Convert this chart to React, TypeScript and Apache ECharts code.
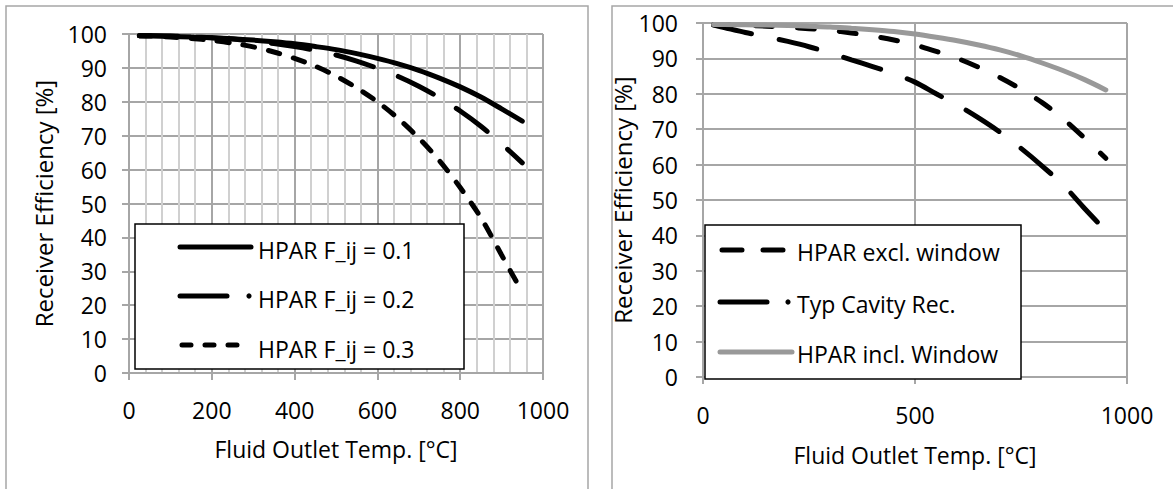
import React, { useEffect, useRef } from "react";
import * as echarts from "echarts";

// ---------- data ----------
const leftTemps = [25, 50, 100, 150, 200, 250, 300, 350, 400, 450, 500, 550, 600, 650, 700, 750, 800, 850, 900, 950];
const effFij01 = [99.5, 99.45, 99.3, 99.1, 98.9, 98.6, 98.2, 97.7, 97.1, 96.3, 95.4, 94.2, 92.8, 91.2, 89.3, 87.0, 84.4, 81.4, 77.9, 74.3];
const effFij02 = [99.5, 99.5, 99.4, 99.2, 98.9, 98.5, 97.9, 97.2, 96.3, 95.2, 93.8, 92.0, 89.9, 87.5, 84.6, 81.2, 77.3, 72.8, 67.6, 62.0];
const effFij03 = [99.5, 99.4, 99.1, 98.7, 98.1, 97.3, 96.2, 94.7, 92.8, 90.5, 87.6, 84.1, 80.0, 75.1, 69.3, 62.6, 54.7, 45.8, 34.8, 23.8];

const rightTemps = [25, 50, 100, 150, 200, 250, 300, 350, 400, 450, 500, 550, 600, 650, 700, 750, 800, 850, 900, 950];
const cavityTemps = [25, 50, 100, 150, 200, 250, 300, 350, 400, 450, 500, 550, 600, 650, 700, 750, 800, 850, 900, 930];
const effExclWindow = [99.5, 99.4, 99.3, 99.1, 98.8, 98.4, 97.9, 97.2, 96.3, 95.2, 93.8, 92.0, 90.0, 87.5, 84.6, 81.3, 77.5, 72.9, 67.5, 61.8];
const effTypCavity = [99.4, 98.7, 97.3, 96.1, 94.8, 93.3, 91.5, 89.6, 87.7, 85.7, 83.3, 80.0, 76.8, 73.2, 69.2, 64.6, 59.6, 54.2, 47.6, 43.8];
const effInclWindow = [99.6, 99.6, 99.5, 99.4, 99.3, 99.1, 98.9, 98.5, 98.1, 97.6, 96.9, 96.0, 95.0, 93.8, 92.4, 90.7, 88.7, 86.5, 84.0, 81.1];

const leftNames = ["HPAR F_ij = 0.1", "HPAR F_ij = 0.2", "HPAR F_ij = 0.3"];
const rightNames = ["HPAR excl. window", "Typ Cavity Rec.", "HPAR incl. Window"];

const leftXTicks = [0, 200, 400, 600, 800, 1000];
const rightXTicks = [0, 500, 1000];
const yTicks = [0, 10, 20, 30, 40, 50, 60, 70, 80, 90, 100];

const xTitle = "Fluid Outlet Temp. [°C]";
const yTitle = "Receiver Efficiency [%]";

// ---------- styles ----------
const FONT = "'Open Sans', sans-serif";
const GRID = "#a6a6a6";
const MINOR = "#d0d0d0";
const GRAY_LINE = "#999999";

const pairs = (xs: number[], ys: number[]) => xs.map((x, i) => [x, ys[i]]);
const plain = (v: number) => String(v);

function xAxisCfg(gridIndex: number, ticks: number[], nameGap: number, labelMargin: number, minor: boolean) {
  return {
    gridIndex,
    type: "value",
    min: ticks[0],
    max: ticks[ticks.length - 1],
    interval: ticks[1] - ticks[0],
    name: xTitle,
    nameLocation: "middle",
    nameGap,
    nameTextStyle: { fontSize: 23, color: "#000", fontFamily: FONT },
    axisLine: { show: true, onZero: false, lineStyle: { color: GRID, width: 2 } },
    axisTick: { show: true, inside: false, length: 7, lineStyle: { color: GRID, width: 2 } },
    axisLabel: { margin: labelMargin, fontSize: 23, color: "#000", fontFamily: FONT, formatter: plain },
    splitLine: { show: true, lineStyle: { color: GRID, width: 2 } },
    minorTick: { show: false, splitNumber: 5 },
    minorSplitLine: { show: minor, lineStyle: { color: MINOR, width: 2 } },
  };
}

function yAxisCfg(gridIndex: number, nameGap: number, labelMargin: number) {
  return {
    gridIndex,
    type: "value",
    min: yTicks[0],
    max: yTicks[yTicks.length - 1],
    interval: yTicks[1] - yTicks[0],
    name: yTitle,
    nameLocation: "middle",
    nameGap,
    nameTextStyle: { fontSize: 24, color: "#000", fontFamily: FONT },
    axisLine: { show: true, onZero: false, lineStyle: { color: GRID, width: 2 } },
    axisTick: { show: true, inside: false, length: 7, lineStyle: { color: GRID, width: 2 } },
    axisLabel: { margin: labelMargin, fontSize: 23, color: "#000", fontFamily: FONT, formatter: plain },
    splitLine: { show: true, lineStyle: { color: GRID, width: 2 } },
  };
}

function lineSeries(name: string, xi: number, data: number[][], color: string, type: any) {
  return {
    name,
    type: "line",
    xAxisIndex: xi,
    yAxisIndex: xi,
    data,
    smooth: 0.3,
    symbol: "none",
    showSymbol: false,
    z: 3,
    lineStyle: { color, width: 5, type, cap: "round" },
  };
}

const Z = 100;
function seg(x1: number, x2: number, y: number, color: string, dash?: number[]) {
  return {
    type: "line",
    z: Z,
    shape: { x1, y1: y, x2, y2: y },
    style: { stroke: color, lineWidth: 5, lineCap: "round", lineDash: dash },
  };
}
function dot(x: number, y: number) {
  return { type: "circle", z: Z, shape: { cx: x, cy: y, r: 2.6 }, style: { fill: "#000" } };
}
function label(text: string, x: number, y: number) {
  return {
    type: "text",
    z: Z,
    x,
    y,
    style: { text, fill: "#000", font: `23px ${FONT}`, textVerticalAlign: "middle", verticalAlign: "middle" },
  };
}
function box(x: number, y: number, w: number, h: number) {
  return {
    type: "rect",
    z: Z - 1,
    shape: { x, y, width: w, height: h },
    style: { fill: "#fff", stroke: "#000", lineWidth: 1.5 },
  };
}

export default function App() {
  const ref = useRef<HTMLDivElement>(null);
  useEffect(() => {
    if (!ref.current) return;
    const chart = echarts.init(ref.current, undefined, { renderer: "svg" });
    const option = {
      animation: false,
      backgroundColor: "#fff",
      textStyle: { fontFamily: FONT },
      grid: [
        { left: 129, top: 34, width: 414, height: 339 },
        { left: 703, top: 23, width: 424, height: 354 },
      ],
      xAxis: [xAxisCfg(0, leftXTicks, 64, 25, true), xAxisCfg(1, rightXTicks, 66, 26, false)],
      yAxis: [yAxisCfg(0, 74, 22), yAxisCfg(1, 56, 25)],
      series: [
        lineSeries(leftNames[0], 0, pairs(leftTemps, effFij01), "#000", "solid"),
        lineSeries(leftNames[1], 0, pairs(leftTemps, effFij02), "#000", [39, 27]),
        lineSeries(leftNames[2], 0, pairs(leftTemps, effFij03), "#000", [12, 14]),
        lineSeries(rightNames[0], 1, pairs(rightTemps, effExclWindow), "#000", [17, 25]),
        lineSeries(rightNames[1], 1, pairs(cavityTemps, effTypCavity), "#000", [39, 28]),
        lineSeries(rightNames[2], 1, pairs(rightTemps, effInclWindow), GRAY_LINE, "solid"),
      ],
      graphic: [
        // panel frames
        { type: "rect", z: 0, shape: { x: 6, y: 6, width: 582, height: 600 }, style: { fill: "none", stroke: GRID, lineWidth: 1.5 } },
        { type: "rect", z: 0, shape: { x: 612, y: 6, width: 600, height: 600 }, style: { fill: "none", stroke: GRID, lineWidth: 1.5 } },
        // left legend
        box(135, 224, 329, 145),
        seg(180, 251, 247, "#000"),
        label(leftNames[0], 258, 249.5),
        seg(180, 227, 296, "#000"),
        dot(249, 296),
        label(leftNames[1], 258, 299),
        seg(182, 244, 345, "#000", [9, 14]),
        label(leftNames[2], 258, 349),
        // right legend
        box(705, 225, 316, 154),
        seg(722, 784, 250, "#000", [20, 21]),
        label(rightNames[0], 797, 251.5),
        seg(720, 767, 302, "#000"),
        dot(788, 302),
        label(rightNames[1], 797, 303.5),
        seg(720, 792, 352, GRAY_LINE),
        label(rightNames[2], 797, 353.5),
      ],
    };
    chart.setOption(option as any);
    return () => chart.dispose();
  }, []);
  return <div ref={ref} style={{ position: "fixed", left: 0, top: 0, width: 1173, height: 489 }} />;
}
